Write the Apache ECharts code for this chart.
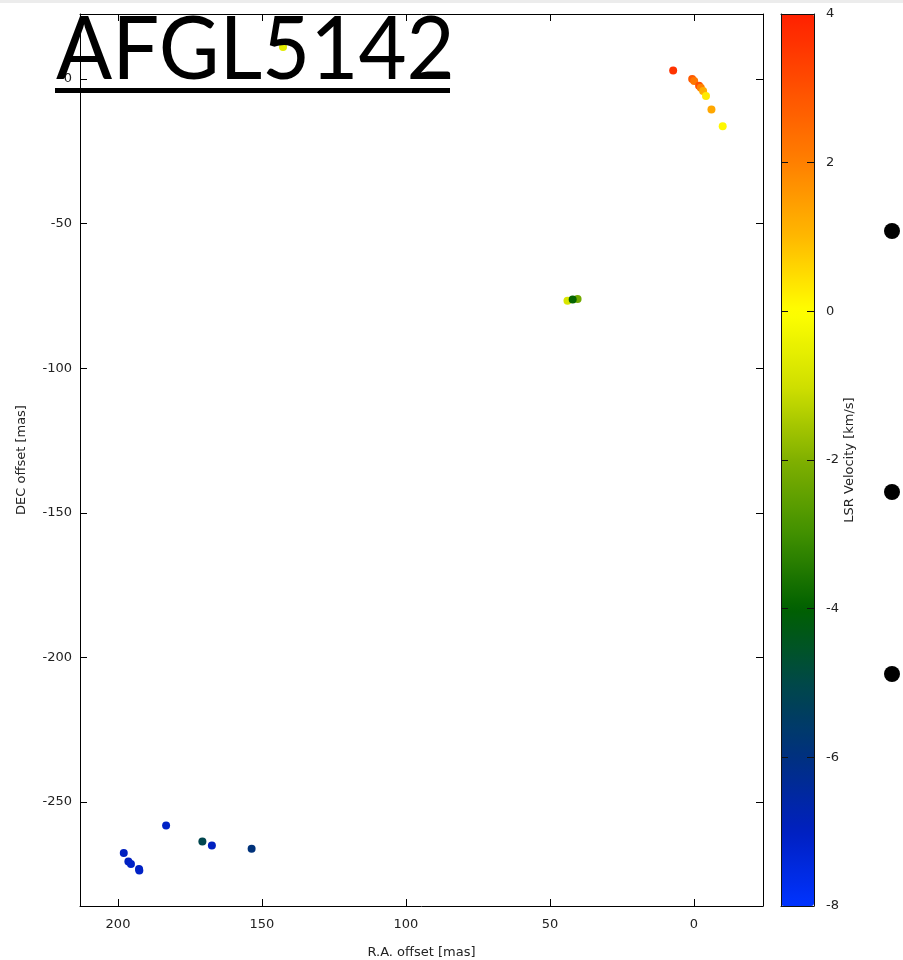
<!DOCTYPE html>
<html>
<head>
<meta charset="utf-8">
<script src="https://cdn.jsdelivr.net/npm/echarts@6/dist/echarts.min.js"></script>
<style>html,body{margin:0;padding:0;background:#fff}#c{width:903px;height:960px}</style>
</head>
<body>
<div id="c"></div>
<script>
// R.A. offset [mas], DEC offset [mas], LSR velocity [km/s]
const raOffsets  = [7.2, 0.6, -0.1, -1.8, -2.4, -3.2, -4.2, -6.1, -10.0, 43.9, 40.4, 42.1, 142.7, 183.3, 198.0, 196.4, 195.5, 192.7, 192.6, 170.7, 167.4, 153.6];
const decOffsets = [3.0, 0.0, -0.7, -2.3, -3.0, -4.1, -5.9, -10.5, -16.3, -76.7, -76.1, -76.2, 11.1, -258.2, -267.7, -270.6, -271.5, -273.2, -273.7, -263.7, -265.1, -266.2];
const velocities = [3.6, 2.8, 2.2, 3.0, 2.0, 1.2, 0.3, 1.3, 0.1, -0.8, -2.2, -3.9, -0.6, -7.1, -7.0, -7.0, -7.1, -7.0, -7.1, -5.1, -7.0, -5.9];

const xTicks = [200, 150, 100, 50, 0];
const yTicks = [0, -50, -100, -150, -200, -250];
const cbTicks = [-8, -6, -4, -2, 0, 2, 4];
const titleText = 'AFGL5142';

const points = raOffsets.map((x, i) => [x, decOffsets[i], velocities[i]]);

const chart = echarts.init(document.getElementById('c'), null, {renderer: 'canvas'});
const font = 'DejaVu Sans';
const axColor = '#000';
const lblColor = '#222';

const option = {
  animation: false,
  backgroundColor: '#fff',
  grid: [
    {left: 80, right: 140, top: 14, bottom: 54, containLabel: false, outerBoundsMode: 'none'},
    {left: 781, top: 14, width: 33, height: 892, containLabel: false, outerBoundsMode: 'none'}
  ],
  xAxis: [
    {
      type: 'value', gridIndex: 0, inverse: true, min: -24, max: 213.2, position: 'bottom',
      name: 'R.A. offset [mas]', nameLocation: 'middle', nameGap: 40,
      nameTextStyle: {fontFamily: font, fontSize: 13, color: lblColor},
      axisLine: {onZero: false, lineStyle: {color: axColor, width: 1}},
      axisTick: {inside: true, length: 7, customValues: xTicks, lineStyle: {color: axColor}},
      axisLabel: {customValues: xTicks, fontFamily: font, fontSize: 13, color: lblColor, margin: 12},
      splitLine: {show: false}
    },
    {
      type: 'value', gridIndex: 0, inverse: true, min: -24, max: 213.2, position: 'top',
      axisLine: {onZero: false, lineStyle: {color: axColor, width: 1}},
      axisTick: {inside: true, length: 7, customValues: xTicks, lineStyle: {color: axColor}},
      axisLabel: {show: false},
      splitLine: {show: false}
    },
    {
      type: 'value', gridIndex: 1, min: 0, max: 1, position: 'bottom', z: 10,
      axisLine: {onZero: false, lineStyle: {color: '#111', width: 1}},
      axisTick: {show: false}, axisLabel: {show: false}, splitLine: {show: false}
    },
    {
      type: 'value', gridIndex: 1, min: 0, max: 1, position: 'top', z: 10,
      axisLine: {onZero: false, lineStyle: {color: '#111', width: 1}},
      axisTick: {show: false}, axisLabel: {show: false}, splitLine: {show: false}
    }
  ],
  yAxis: [
    {
      type: 'value', gridIndex: 0, min: -286, max: 22.5, position: 'left',
      name: 'DEC offset [mas]', nameLocation: 'middle', nameGap: 52, nameRotate: 90,
      nameTextStyle: {fontFamily: font, fontSize: 13, color: lblColor},
      axisLine: {onZero: false, lineStyle: {color: axColor, width: 1}},
      axisTick: {inside: true, length: 7, customValues: yTicks, lineStyle: {color: axColor}},
      axisLabel: {customValues: yTicks, fontFamily: font, fontSize: 13, color: lblColor, margin: 8},
      splitLine: {show: false}
    },
    {
      type: 'value', gridIndex: 0, min: -286, max: 22.5, position: 'right',
      axisLine: {onZero: false, lineStyle: {color: axColor, width: 1}},
      axisTick: {inside: true, length: 7, customValues: yTicks, lineStyle: {color: axColor}},
      axisLabel: {show: false},
      splitLine: {show: false}
    },
    {
      type: 'value', gridIndex: 1, min: -8, max: 4, position: 'right', z: 10,
      name: 'LSR Velocity [km/s]', nameLocation: 'middle', nameGap: 25, nameRotate: 90,
      nameTextStyle: {fontFamily: font, fontSize: 13, color: lblColor},
      axisLine: {onZero: false, lineStyle: {color: '#111', width: 1}},
      axisTick: {inside: true, length: 7, customValues: cbTicks, lineStyle: {color: '#111'}},
      axisLabel: {customValues: cbTicks, fontFamily: font, fontSize: 13, color: lblColor, margin: 12},
      splitLine: {show: false}
    },
    {
      type: 'value', gridIndex: 1, min: -8, max: 4, position: 'left', z: 10,
      axisLine: {onZero: false, lineStyle: {color: '#111', width: 1}},
      axisTick: {inside: true, length: 7, customValues: cbTicks, lineStyle: {color: '#111'}},
      axisLabel: {show: false},
      splitLine: {show: false}
    }
  ],
  visualMap: {
    type: 'continuous', min: -8, max: 4, dimension: 2, seriesIndex: 0,
    calculable: false, realtime: false, hoverLink: false,
    left: 781, top: 14, itemWidth: 33, itemHeight: 892, padding: 0,
    text: null, showLabel: false,
    inRange: {
      color: ['#0033ff', '#0020c0', '#003080', '#004848', '#006000', '#409000', '#80b000', '#d0e000', '#ffff00', '#ffb800', '#ff8000', '#ff5000', '#ff2000']
    }
  },
  series: [{
    type: 'scatter', xAxisIndex: 0, yAxisIndex: 0,
    symbol: 'circle', symbolSize: 8,
    data: points,
    itemStyle: {opacity: 1}
  }],
  graphic: [
    {type: 'rect', left: 0, top: 0, shape: {width: 903, height: 3}, style: {fill: '#ececec'}, z: 50},
    {type: 'text', x: 56, y: 7, scaleX: 0.955, z: 100,
     style: {text: titleText, fontFamily: 'Lato', fontSize: 87, fill: '#000'}},
    {type: 'rect', left: 55, top: 88, z: 100, shape: {width: 395, height: 5}, style: {fill: '#000'}},
    {type: 'circle', left: 884, top: 223, shape: {r: 8}, style: {fill: '#000'}, z: 100},
    {type: 'circle', left: 884, top: 484, shape: {r: 8}, style: {fill: '#000'}, z: 100},
    {type: 'circle', left: 884, top: 666, shape: {r: 8}, style: {fill: '#000'}, z: 100}
  ]
};
chart.setOption(option);
</script>
</body>
</html>
